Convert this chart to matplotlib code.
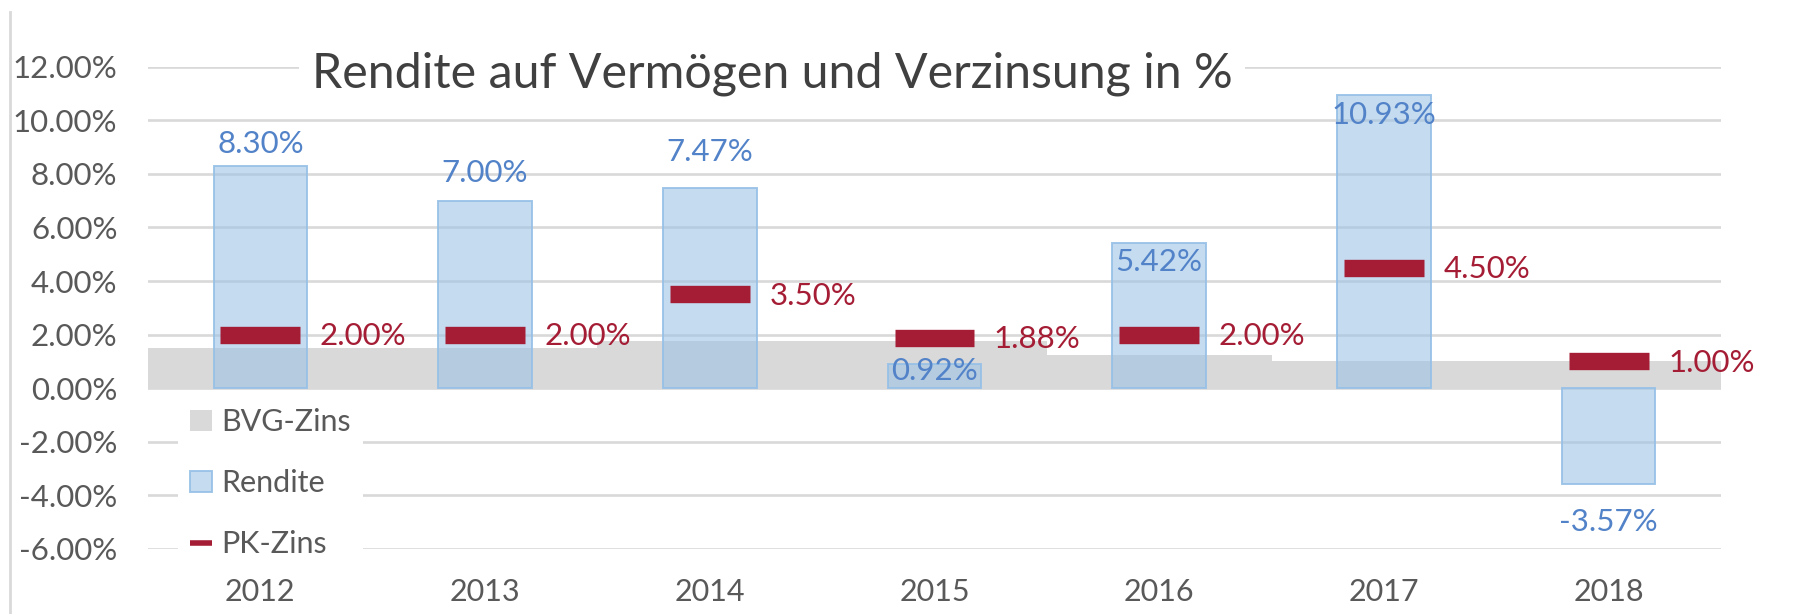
import matplotlib
matplotlib.use("Agg")
from matplotlib import pyplot as plt
from matplotlib.patches import Patch
from matplotlib.lines import Line2D
import numpy as np

years = ["2012", "2013", "2014", "2015", "2016", "2017", "2018"]
bvg_zins = [1.50, 1.50, 1.75, 1.75, 1.25, 1.00, 1.00]
rendite = [8.30, 7.00, 7.47, 0.92, 5.42, 10.93, -3.57]
pk_zins = [2.00, 2.00, 3.50, 1.88, 2.00, 4.50, 1.00]
y_ticks = [-6, -4, -2, 0, 2, 4, 6, 8, 10, 12]

# label offsets for the Rendite labels (points, from the bar end)
rendite_label_dy = [16, 20, 26, -5.5, -13.5, -14, -27.5]

GREY = "#D9D9D9"
BLUE_FILL = (157 / 255, 195 / 255, 230 / 255, 0.6)
BLUE_EDGE = (150 / 255, 192 / 255, 230 / 255, 0.9)
BLUE_TEXT = "#5282C8"
RED = "#A51D35"
TEXT = "#595959"

plt.rcParams["font.family"] = ["Lato", "DejaVu Sans"]

W, H = 1804, 614
fig = plt.figure(figsize=(W / 100, H / 100), dpi=100)
ax = fig.add_axes([148 / W, (H - 549) / H, 1573 / W, (549 - 66.7) / H])

x = np.arange(len(years))

ax.bar(x, bvg_zins, width=1.0, color=GREY, linewidth=0, zorder=1)
ax.bar(x, rendite, width=0.416, facecolor=BLUE_FILL, edgecolor=BLUE_EDGE,
       linewidth=1.4, zorder=2)
marks = ax.hlines(pk_zins, x - 0.178, x + 0.178, colors=RED, linewidth=12.5, zorder=3)
marks.set_capstyle("butt")

for xi, v, dy in zip(x, rendite, rendite_label_dy):
    ax.annotate(f"{v:.2f}%", (xi, v), xytext=(0, dy), textcoords="offset points",
                ha="center", va="center", color=BLUE_TEXT, fontsize=22.5, zorder=4)

for xi, v in zip(x, pk_zins):
    ax.annotate(f"{v:.2f}%", (xi + 0.178, v), xytext=(14, -1),
                textcoords="offset points", ha="left", va="center",
                color=RED, fontsize=22.5, zorder=4)

ax.set_xlim(-0.5, len(years) - 0.5)
ax.set_ylim(-6, 12)
ax.set_yticks(y_ticks)
ax.set_yticklabels([f"{t:.2f}%" for t in y_ticks])
ax.set_xticks(x)
ax.set_xticklabels(years)
ax.tick_params(axis="y", length=0, pad=22, labelsize=22.5, labelcolor=TEXT)
ax.tick_params(axis="x", length=0, pad=21, labelsize=22, labelcolor=TEXT)
for s in ax.spines.values():
    s.set_visible(False)
ax.set_axisbelow(True)
ax.yaxis.grid(True, color=GREY, linewidth=1.9)

handles = [
    Patch(facecolor=GREY, edgecolor="none"),
    Patch(facecolor=BLUE_FILL, edgecolor=BLUE_EDGE, linewidth=1.4),
    Line2D([], [], color=RED, linewidth=4, solid_capstyle="butt"),
]
leg = ax.legend(handles, ["BVG-Zins", "Rendite", "PK-Zins"],
                loc="upper left", bbox_to_anchor=(178 / W, (H - 396) / H),
                bbox_transform=fig.transFigure, borderaxespad=0,
                fontsize=22, labelcolor=TEXT, frameon=True, fancybox=False,
                facecolor="white", edgecolor="none", framealpha=1,
                handlelength=0.72, handleheight=0.68, handletextpad=0.28,
                labelspacing=1.08, borderpad=0.4)
leg.set_zorder(6)

fig.text(312 / W, (H - 87.3) / H, "Rendite auf Vermögen und Verzinsung in %",
         ha="left", va="baseline", fontsize=34.8, color="#404040",
         bbox=dict(facecolor="white", edgecolor="none", pad=9))

fig.add_artist(Line2D([10 / W, 10 / W], [0, 1 - 12 / H], transform=fig.transFigure,
                      color=GREY, linewidth=2))

fig.savefig("out.png", dpi=100, facecolor="white")
